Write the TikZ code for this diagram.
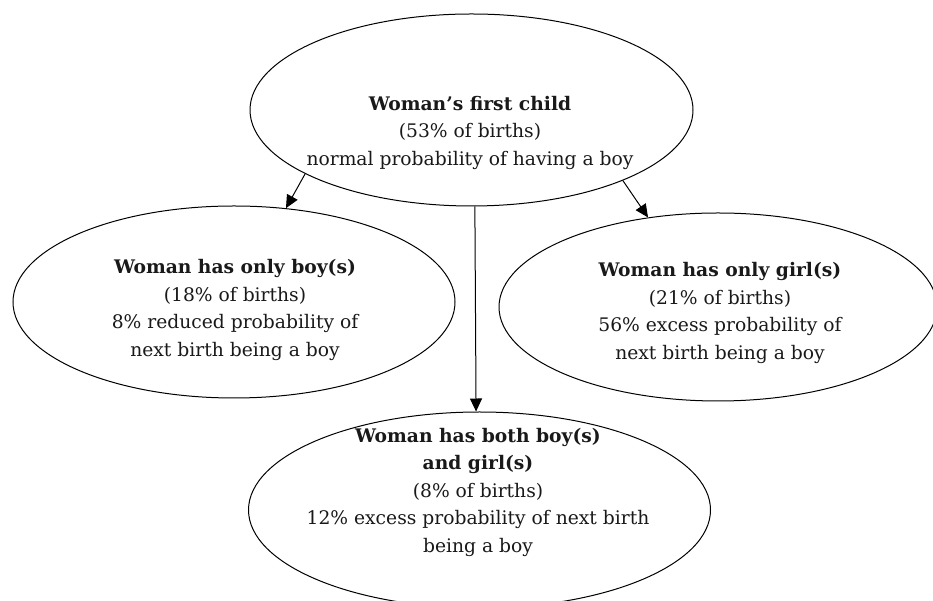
\documentclass[tikz,border=0pt]{standalone}
\usepackage{fontspec}
\setmainfont{DejaVu Serif}
\usetikzlibrary{shapes.geometric,arrows.meta}
\begin{document}
\begin{tikzpicture}[x=1pt,y=1pt,
  oval/.style={draw=black,line width=1pt,ellipse,inner sep=0pt},
  txt/.style={align=center,font=\fontsize{18.7}{27.5}\selectfont,text=black!90,inner sep=0pt},
  arr/.style={draw=black,line width=1pt,-{Triangle[length=13pt,width=12pt]}}]
\useasboundingbox (0,0) rectangle (933,601);
\node[oval,minimum width=443pt,minimum height=192pt] (top) at (471.5,491) {};
\node[oval,minimum width=442pt,minimum height=192pt] (left) at (234,299) {};
\node[oval,minimum width=438pt,minimum height=188pt] (right) at (718,294) {};
\node[oval,minimum width=462pt,minimum height=196pt] (bot) at (479.5,91) {};
\node[txt] (ttop) at (470,468.5) {\textbf{Woman’s first child}\\(53\% of births)\\normal probability of having a boy};
\node[txt] (tleft) at (235,291) {\textbf{Woman has only boy(s)}\\(18\% of births)\\8\% reduced probability of\\next birth being a boy};
\node[txt] (tright) at (720,288) {\textbf{Woman has only girl(s)}\\(21\% of births)\\56\% excess probability of\\next birth being a boy};
\node[txt] (tbot) at (478,109) {\textbf{Woman has both boy(s)}\\\textbf{and girl(s)}\\(8\% of births)\\12\% excess probability of next birth\\being a boy};
\draw[arr] (top.201.8) -- (left.61.8);
\draw[arr] (top.335.2) -- (right.128.2);
\draw[arr] (top.272.7) -- (bot.92.1);
\end{tikzpicture}
\end{document}
